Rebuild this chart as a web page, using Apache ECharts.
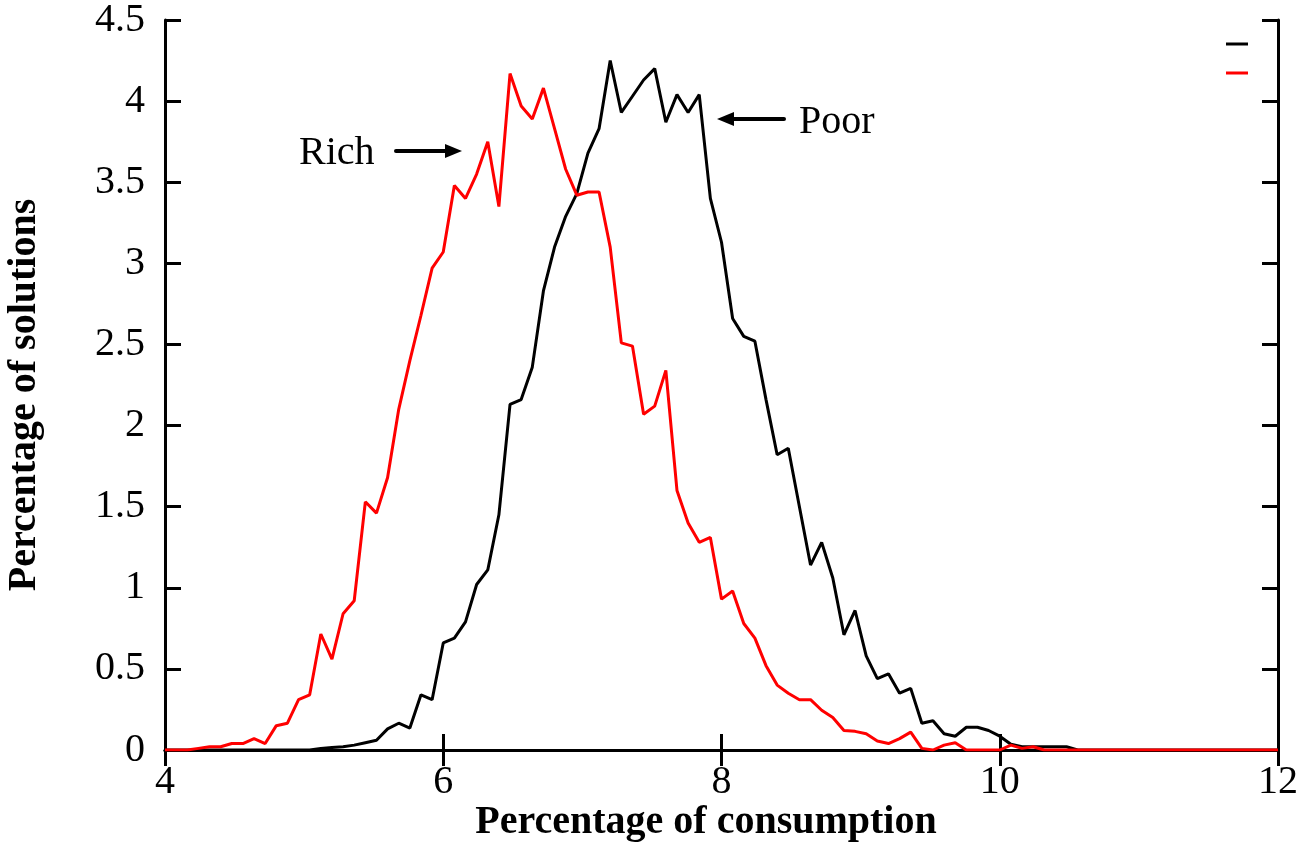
<!DOCTYPE html>
<html>
<head>
<meta charset="utf-8">
<script src="https://cdn.jsdelivr.net/npm/echarts@6/dist/echarts.min.js"></script>
<style>html,body{margin:0;padding:0;background:#fff;}#c{width:1306px;height:844px;}</style>
</head>
<body>
<div id="c"></div>
<script>
const xValues = [
4.00,4.08,4.16,4.24,4.32,4.40,4.48,4.56,4.64,4.72,
4.80,4.88,4.96,5.04,5.12,5.20,5.28,5.36,5.44,5.52,
5.60,5.68,5.76,5.84,5.92,6.00,6.08,6.16,6.24,6.32,
6.40,6.48,6.56,6.64,6.72,6.80,6.88,6.96,7.04,7.12,
7.20,7.28,7.36,7.44,7.52,7.60,7.68,7.76,7.84,7.92,
8.00,8.08,8.16,8.24,8.32,8.40,8.48,8.56,8.64,8.72,
8.80,8.88,8.96,9.04,9.12,9.20,9.28,9.36,9.44,9.52,
9.60,9.68,9.76,9.84,9.92,10.00,10.08,10.16,10.24,10.32,
10.40,10.48,10.56,10.64,10.72,10.80,10.88,10.96,11.04,11.12,
11.20,11.28,11.36,11.44,11.52,11.60,11.68,11.76,11.84,11.92,
12.00];

const poorValues = [
0,0,0,0,0,0,0,0,0,0,
0,0,0,0,0.01,0.015,0.02,0.03,0.045,0.06,
0.13,0.165,0.135,0.34,0.31,0.66,0.69,0.79,1.02,1.11,
1.45,2.13,2.16,2.36,2.83,3.10,3.29,3.43,3.68,3.83,
4.25,3.93,4.03,4.13,4.20,3.87,4.04,3.93,4.04,3.40,
3.13,2.66,2.55,2.52,2.16,1.82,1.86,1.50,1.14,1.28,
1.06,0.71,0.86,0.58,0.44,0.47,0.35,0.38,0.165,0.18,
0.10,0.085,0.14,0.14,0.12,0.085,0.035,0.02,0.02,0.02,
0.02,0.02,0,0,0,0,0,0,0,0,
0,0,0,0,0,0,0,0,0,0,
0];

const richValues = [
0,0,0,0.01,0.02,0.02,0.04,0.04,0.07,0.04,
0.15,0.165,0.31,0.34,0.715,0.56,0.84,0.92,1.53,1.46,
1.68,2.10,2.40,2.68,2.97,3.07,3.48,3.40,3.55,3.75,
3.35,4.17,3.97,3.89,4.08,3.83,3.58,3.42,3.44,3.44,
3.10,2.51,2.49,2.07,2.12,2.34,1.60,1.40,1.28,1.31,
0.93,0.98,0.78,0.69,0.52,0.40,0.35,0.31,0.31,0.245,
0.20,0.12,0.115,0.10,0.055,0.04,0.07,0.11,0.01,0,
0.03,0.045,0,0,0,0,0.03,0.01,0.02,0,
0,0,0,0,0,0,0,0,0,0,
0,0,0,0,0,0,0,0,0,0,
0];

const xTicks = [4, 6, 8, 10, 12];
const yTicks = [0, 0.5, 1, 1.5, 2, 2.5, 3, 3.5, 4, 4.5];
const seriesNames = ['Poor', 'Rich'];
const xTitle = 'Percentage of consumption';
const yTitle = 'Percentage of solutions';

const FONT = "'Liberation Serif', 'DejaVu Serif', serif";
const chart = echarts.init(document.getElementById('c'), null, {renderer: 'canvas'});

const axisLineStyle = {show: true, lineStyle: {color: '#000', width: 3}};
const tickStyle = {inside: true, length: 16, lineStyle: {color: '#000', width: 3}};

function pairs(vals) { return xValues.map((x, i) => [x, vals[i]]); }

chart.setOption({
  animation: false,
  backgroundColor: '#fff',
  grid: {left: 165, right: 28, top: 14, bottom: 94, containLabel: false},
  xAxis: [{
    type: 'value', min: xTicks[0], max: xTicks[xTicks.length - 1], interval: 2,
    position: 'bottom',
    axisLine: axisLineStyle, axisTick: tickStyle, splitLine: {show: false},
    axisLabel: {color: '#000', fontFamily: FONT, fontSize: 40, margin: 12}
  }, {
    type: 'value', min: xTicks[0], max: xTicks[xTicks.length - 1], interval: 2,
    position: 'top',
    axisLine: axisLineStyle, axisTick: tickStyle, splitLine: {show: false},
    axisLabel: {show: false}
  }],
  yAxis: [{
    type: 'value', min: yTicks[0], max: yTicks[yTicks.length - 1], interval: 0.5,
    position: 'left',
    axisLine: axisLineStyle, axisTick: tickStyle, splitLine: {show: false},
    axisLabel: {color: '#000', fontFamily: FONT, fontSize: 40, margin: 20}
  }, {
    type: 'value', min: yTicks[0], max: yTicks[yTicks.length - 1], interval: 0.5,
    position: 'right',
    axisLine: axisLineStyle, axisTick: tickStyle, splitLine: {show: false},
    axisLabel: {show: false}
  }],
  series: [{
    name: seriesNames[0], type: 'line', data: pairs(poorValues), showSymbol: false, symbol: 'none',
    lineStyle: {color: '#000', width: 3}, itemStyle: {color: '#000'}, z: 3
  }, {
    name: seriesNames[1], type: 'line', data: pairs(richValues), showSymbol: false, symbol: 'none',
    lineStyle: {color: '#ff0000', width: 3}, itemStyle: {color: '#ff0000'}, z: 4
  }],
  graphic: [
    {type: 'text', x: 706, y: 823, style: {text: xTitle, font: "bold 40px 'Liberation Serif'", fill: '#000', align: 'center', verticalAlign: 'middle'}},
    {type: 'text', x: 25, y: 395, rotation: Math.PI / 2, style: {text: yTitle, font: "bold 40px 'Liberation Serif'", fill: '#000', align: 'center', verticalAlign: 'middle'}},
    {type: 'line', shape: {x1: 1226, y1: 44, x2: 1248, y2: 44}, style: {stroke: '#000', lineWidth: 3}},
    {type: 'line', shape: {x1: 1226, y1: 73, x2: 1248, y2: 73}, style: {stroke: '#ff0000', lineWidth: 3}},
    {type: 'text', x: 299, y: 153, style: {text: 'Rich', font: "40px 'Liberation Serif'", fill: '#000', verticalAlign: 'middle'}},
    {type: 'line', shape: {x1: 396, y1: 151, x2: 452, y2: 151}, style: {stroke: '#000', lineWidth: 4, lineCap: 'round'}},
    {type: 'polygon', shape: {points: [[462, 151], [445, 144], [445, 158]]}, style: {fill: '#000'}},
    {type: 'text', x: 799, y: 122, style: {text: 'Poor', font: "40px 'Liberation Serif'", fill: '#000', verticalAlign: 'middle'}},
    {type: 'line', shape: {x1: 727, y1: 119, x2: 784, y2: 119}, style: {stroke: '#000', lineWidth: 4, lineCap: 'round'}},
    {type: 'polygon', shape: {points: [[717, 119], [734, 112], [734, 126]]}, style: {fill: '#000'}}
  ]
});
</script>
</body>
</html>
